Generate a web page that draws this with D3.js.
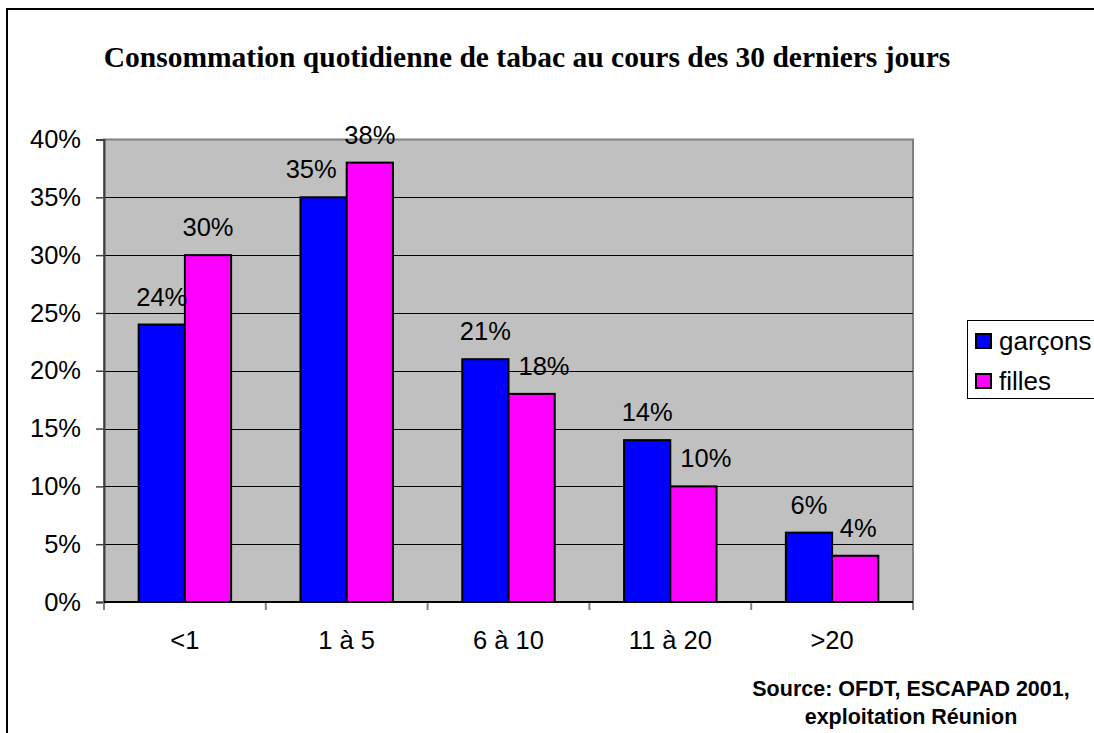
<!DOCTYPE html>
<html>
<head>
<meta charset="utf-8">
<script src="https://cdn.jsdelivr.net/npm/d3@7"></script>
<style>
  body { margin: 0; background: #fff; }
  text { font-family: "Liberation Sans", Arial, sans-serif; }
</style>
</head>
<body>
<div class="chart"></div>
<script>
// data
const categories = ['<1', '1 à 5', '6 à 10', '11 à 20', '>20'];
const series = ['garçons', 'filles'];
const garcons = [24, 35, 21, 14, 6];
const filles = [30, 38, 18, 10, 4];
const yTicks = [0, 5, 10, 15, 20, 25, 30, 35, 40];
const colors = ['#0000FF', '#FF00FF'];

const width = 1094;
const height = 733;
const plot = {left: 104, right: 913, top: 139.5, bottom: 602};

const svg = d3.select('.chart')
    .append('svg')
    .attr('width', width)
    .attr('height', height);

// outer frame
svg.append('rect')
    .attr('x', 7).attr('y', 9)
    .attr('width', 1200).attr('height', 800)
    .attr('fill', 'none')
    .attr('stroke', '#000')
    .attr('stroke-width', 2);

svg.append('text')
    .text('Consommation quotidienne de tabac au cours des 30 derniers jours')
    .attr('x', 527)
    .attr('y', 67)
    .attr('text-anchor', 'middle')
    .style('font-family', '"Liberation Serif", "Times New Roman", serif')
    .style('font-weight', 'bold')
    .style('font-size', '29.5px');

const x0 = d3.scaleBand()
    .domain(categories)
    .range([plot.left, plot.right])
    .padding(0);

const x1 = d3.scaleBand()
    .domain(series)
    .range([0, x0.bandwidth()])
    .paddingInner(0)
    .paddingOuter(0.75);

const y = d3.scaleLinear()
    .domain([0, 40])
    .range([plot.bottom, plot.top]);

// plot background
svg.append('rect')
    .attr('x', plot.left).attr('y', plot.top)
    .attr('width', plot.right - plot.left)
    .attr('height', plot.bottom - plot.top)
    .attr('fill', '#C0C0C0')
    .attr('stroke', '#808080')
    .attr('stroke-width', 2);

// gridlines
svg.selectAll('.grid')
    .data(yTicks.filter(d => d > 0 && d < 40))
    .enter()
    .append('line')
    .attr('x1', plot.left).attr('x2', plot.right)
    .attr('y1', d => Math.round(y(d)) + 0.5)
    .attr('y2', d => Math.round(y(d)) + 0.5)
    .attr('stroke', '#000')
    .attr('stroke-width', 1);

// y axis
const yAxis = svg.append('g')
    .attr('transform', `translate(${plot.left},0)`)
    .call(d3.axisLeft(y).tickValues(yTicks).tickSize(8).tickPadding(15).tickFormat(d => d + '%'));
yAxis.select('.domain').attr('stroke', '#404040').attr('stroke-width', 2);
yAxis.selectAll('.tick line').attr('stroke', '#404040').attr('stroke-width', 1.5);
yAxis.selectAll('.tick text')
    .style('font-family', '"Liberation Sans", Arial, sans-serif')
    .style('font-size', '25.5px')
    .attr('fill', '#000');

// x axis
const xAxis = svg.append('g')
    .attr('transform', `translate(0,${plot.bottom})`)
    .call(d3.axisBottom(x0).tickSize(0).tickPadding(29));
xAxis.select('.domain').remove();
xAxis.selectAll('.tick text')
    .style('font-family', '"Liberation Sans", Arial, sans-serif')
    .style('font-size', '25.5px')
    .attr('fill', '#000');

// x boundary ticks
const boundaries = categories.map(c => x0(c)).concat([x0.range()[1]]);
svg.selectAll('.xtick')
    .data(boundaries)
    .enter()
    .append('line')
    .attr('x1', d => d).attr('x2', d => d)
    .attr('y1', plot.bottom).attr('y2', plot.bottom + 8)
    .attr('stroke', '#808080')
    .attr('stroke-width', 2);

// bars
const rows = categories.map((c, i) => ({cat: c, values: [garcons[i], filles[i]]}));

const groups = svg.selectAll('.group')
    .data(rows)
    .enter()
    .append('g')
    .attr('transform', d => `translate(${x0(d.cat)},0)`);

groups.selectAll('rect')
    .data(d => d.values.map((v, j) => ({key: series[j], v: v, j: j})))
    .enter()
    .append('rect')
    .attr('x', d => x1(d.key))
    .attr('y', d => y(d.v))
    .attr('width', x1.bandwidth())
    .attr('height', d => y(0) - y(d.v))
    .attr('fill', d => colors[d.j])
    .attr('stroke', '#000')
    .attr('stroke-width', 2);

// x axis line
svg.append('line')
    .attr('x1', plot.left).attr('x2', plot.right)
    .attr('y1', plot.bottom).attr('y2', plot.bottom)
    .attr('stroke', '#000')
    .attr('stroke-width', 2);

// labels, nudged sideways when they hit the top corner of the neighbouring taller bar
const lblGap = 19;
groups.selectAll('.lbl')
    .data(d => d.values.map((v, j) => ({key: series[j], v: v, j: j, other: d.values[1 - j]})))
    .enter()
    .append('text')
    .text(d => d.v + '%')
    .attr('x', d => x1(d.key) + x1.bandwidth() / 2)
    .attr('y', d => y(d.v) - lblGap)
    .attr('text-anchor', 'middle')
    .style('font-size', '25.5px')
    .attr('dx', function(d) {
        if (d.other <= d.v) return 0;
        const w = this.getComputedTextLength();
        const overlap = w / 2 - x1.bandwidth() / 2;
        const labelTop = y(d.v) - lblGap - 18;
        if (overlap <= 0) return d.j === 1 ? 3 : -3;
        if (Math.abs(labelTop - y(d.other)) > 20) return 0;
        return (d.j === 1 ? 1 : -1) * (overlap + 10);
    });

// legend
const legend = svg.append('g');
legend.append('rect')
    .attr('x', 967.5).attr('y', 320.5)
    .attr('width', 200).attr('height', 78)
    .attr('fill', '#fff')
    .attr('stroke', '#000')
    .attr('stroke-width', 1);

const items = legend.selectAll('.item')
    .data(series)
    .enter()
    .append('g')
    .attr('transform', (d, i) => `translate(976,${341 + i * 40})`);

items.append('rect')
    .attr('x', 0).attr('y', -7)
    .attr('width', 15).attr('height', 14)
    .attr('fill', (d, i) => colors[i])
    .attr('stroke', '#000')
    .attr('stroke-width', 2);

items.append('text')
    .text(d => d)
    .attr('x', 23)
    .attr('y', 8.5)
    .style('font-size', '26px');

// source
const src = svg.append('text')
    .attr('text-anchor', 'middle')
    .style('font-weight', 'bold')
    .style('font-size', '21.5px');
src.append('tspan').attr('x', 911).attr('y', 696).text('Source: OFDT, ESCAPAD 2001,');
src.append('tspan').attr('x', 911).attr('y', 724).text('exploitation Réunion');
</script>
</body>
</html>
